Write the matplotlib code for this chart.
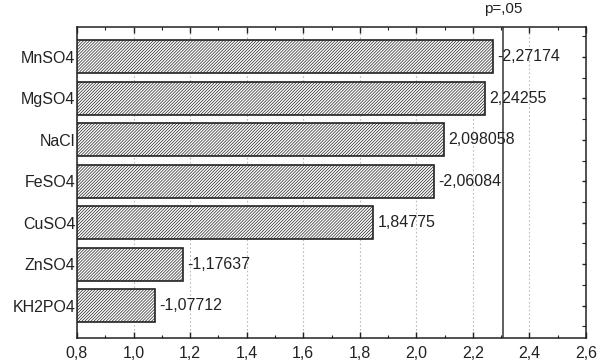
"""Pareto chart of standardized effects for the salt factors."""
import matplotlib
matplotlib.use("Agg")
import matplotlib.pyplot as plt
from matplotlib.ticker import FuncFormatter, MultipleLocator

plt.rcParams["font.family"] = ["Liberation Sans", "DejaVu Sans"]
plt.rcParams["hatch.linewidth"] = 0.5
plt.rcParams["hatch.color"] = "#333333"

FACTORS = ["MnSO4", "MgSO4", "NaCl", "FeSO4", "CuSO4", "ZnSO4", "KH2PO4"]
EFFECTS = [-2.27174, 2.24255, 2.098058, -2.06084, 1.84775, -1.17637, -1.07712]
EFFECT_LABELS = ["-2,27174", "2,24255", "2,098058", "-2,06084", "1,84775", "-1,17637", "-1,07712"]
CRITICAL_T = 2.306
X_MIN, X_MAX = 0.8, 2.6
FONT_SIZE = 11.5


def comma_decimal(value, _pos):
    return f"{value:.1f}".replace(".", ",")


def main() -> None:
    fig = plt.figure(figsize=(6.04, 3.62), dpi=100)
    ax = fig.add_axes([77 / 604, 24 / 362, 509 / 604, 311 / 362])

    n = len(FACTORS)
    y_positions = list(range(n - 1, -1, -1))
    widths = [abs(v) - X_MIN for v in EFFECTS]

    ax.barh(y_positions, widths, left=X_MIN, height=0.8, color="white",
            edgecolor="#222222", linewidth=1.2, hatch="/" * 11, zorder=3)

    for y, value, label in zip(y_positions, EFFECTS, EFFECT_LABELS):
        ax.text(abs(value) + 0.015, y, label, va="center", ha="left",
                fontsize=FONT_SIZE, color="#222222", zorder=4)

    ax.axvline(CRITICAL_T, color="#444444", linewidth=1.2, zorder=2)
    ax.text(CRITICAL_T, 1.035, "p=,05", transform=ax.get_xaxis_transform(),
            ha="center", va="bottom", fontsize=FONT_SIZE - 0.5, color="#222222")

    ax.set_xlim(X_MIN, X_MAX)
    ax.set_ylim(-0.78, n - 1 + 0.72)
    ax.xaxis.set_major_locator(MultipleLocator(0.2))
    ax.xaxis.set_minor_locator(MultipleLocator(0.1))
    ax.xaxis.set_major_formatter(FuncFormatter(comma_decimal))
    ax.set_yticks(y_positions, FACTORS)
    ax.yaxis.set_minor_locator(MultipleLocator(0.5))

    ax.grid(visible=True, which="major", axis="x", color="#bbbbbb",
            linestyle=(0, (1.5, 2)), linewidth=0.8, zorder=0)
    ax.tick_params(which="both", direction="in", top=True, right=True,
                   colors="#222222", labelsize=FONT_SIZE)
    ax.tick_params(which="major", length=4, width=1.0)
    ax.tick_params(which="minor", length=2.5, width=0.8)
    ax.tick_params(axis="x", which="major", pad=6)
    ax.tick_params(axis="y", which="both", left=False, length=0)
    ax.tick_params(axis="y", which="both", right=True, length=3)
    ax.tick_params(axis="y", labelleft=True, pad=1)
    for spine in ax.spines.values():
        spine.set_color("#222222")
        spine.set_linewidth(1.1)

    fig.savefig("out.png", dpi=100)
    plt.close(fig)


if __name__ == "__main__":
    main()
